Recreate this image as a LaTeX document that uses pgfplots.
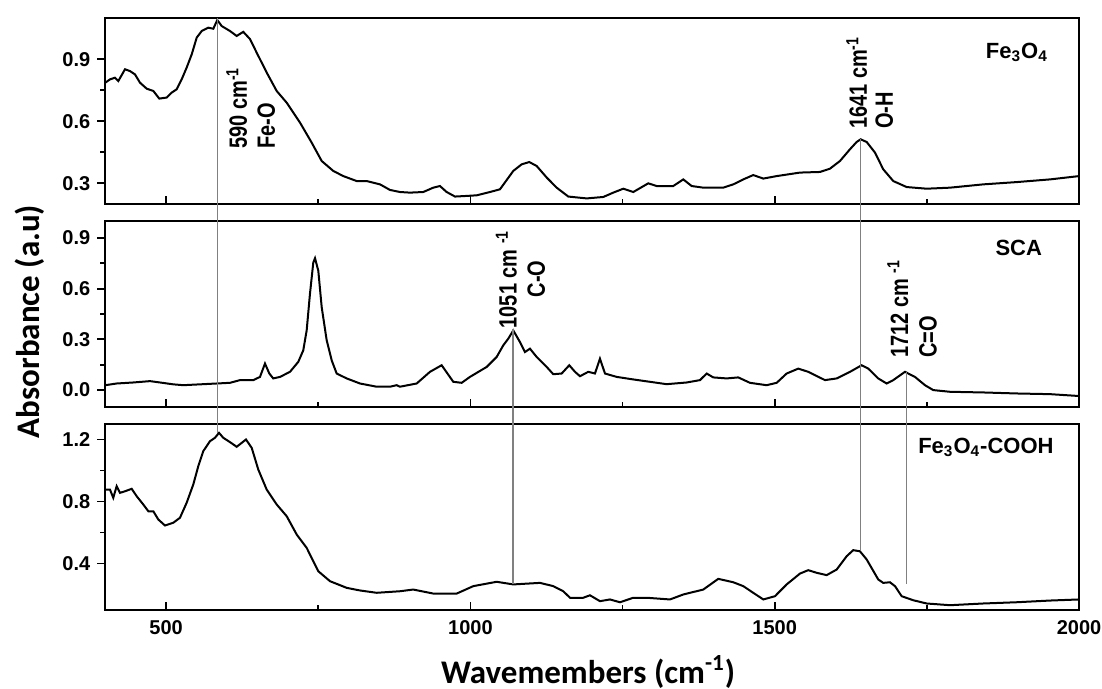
\documentclass[border=0pt]{standalone}
\usepackage{fontspec}
\usepackage{graphicx}
\usepackage{pgfplots}
\pgfplotsset{compat=1.18}
\setmainfont{Liberation Sans}
\newfontfamily\calibri{Carlito}
\newcommand\pk[1]{\scalebox{0.8}[1]{#1}}

\pgfplotsset{
  panel/.style={
    scale only axis, width=486.85pt, height=93pt,
    anchor=north west,
    xmin=400, xmax=2000,
    xtick={500,1000,1500,2000}, minor x tick num=1,
    xtick pos=left, ytick pos=left,
    xtick align=inside, ytick align=outside,
    major tick length=4pt, minor tick length=2.5pt,
    axis line style={line width=1.1pt},
    tick style={black, line width=0.9pt},
    tick label style={font=\bfseries\fontsize{10}{12}\selectfont},
    /pgf/number format/assume math mode=true,
    xticklabel style={/pgf/number format/set thousands separator={}},
    yticklabel style={/pgf/number format/.cd, fixed, fixed zerofill, precision=1},
    minor y tick num=1,
    clip mode=individual,
  },
  spec/.style={black, line width=1pt, no marks},
}
\tikzset{
  peak/.style={rotate=90, anchor=base west, inner sep=0pt, font=\bfseries\fontsize{12.5}{14}\selectfont},
  samp/.style={font=\bfseries\fontsize{11}{13}\selectfont},
}

\begin{document}
\begin{tikzpicture}
% Fe3O4
\begin{axis}[panel, at={(0,0)}, ymin=0.2, ymax=1.1, ytick={0.3,0.6,0.9}, xticklabel=\empty]
\addplot[spec] coordinates {(400,0.787)(407.7,0.803)(415.9,0.811)(421.4,0.795)(432.4,0.852)(440.6,0.843)(448.8,0.827)(457,0.787)(468,0.758)(478.9,0.747)(488.7,0.710)(500.9,0.715)(509.1,0.739)(517.3,0.755)(525.5,0.803)(533.7,0.860)(542,0.924)(550.2,1.005)(558.4,1.037)(569.2,1.053)(577.5,1.048)(584,1.090)(591.3,1.061)(604.9,1.037)(615.9,1.013)(626.7,1.033)(637.8,0.998)(648.8,0.932)(665.2,0.836)(681.6,0.747)(698.1,0.690)(719.9,0.594)(739.1,0.497)(755.6,0.408)(774.6,0.360)(791.1,0.335)(813.1,0.311)(829.5,0.311)(851.4,0.295)(867.8,0.268)(884.2,0.258)(900.7,0.255)(922.5,0.258)(938.9,0.279)(949.9,0.287)(960.9,0.258)(974.6,0.236)(993.8,0.239)(1010.2,0.242)(1032.1,0.258)(1048.5,0.271)(1070.4,0.360)(1084.2,0.392)(1096.7,0.403)(1108.8,0.384)(1125.3,0.328)(1141.7,0.279)(1160.8,0.236)(1191,0.227)(1218.3,0.234)(1234.7,0.255)(1251.2,0.274)(1267.6,0.258)(1292.2,0.300)(1306,0.287)(1333.3,0.287)(1349.7,0.319)(1363.5,0.287)(1382.6,0.279)(1415.4,0.279)(1431.9,0.295)(1448.3,0.319)(1464.7,0.340)(1481.2,0.323)(1503.2,0.335)(1541.5,0.352)(1574.4,0.355)(1590.8,0.371)(1607.2,0.408)(1623.7,0.465)(1634.6,0.500)(1641.2,0.513)(1651.1,0.500)(1664.7,0.449)(1678.3,0.368)(1694.8,0.311)(1716.8,0.282)(1749.7,0.274)(1788,0.279)(1842.7,0.295)(1897.5,0.306)(1952.3,0.319)(2000,0.335)};
\node[peak] at (axis cs:632.8,0.465) {\pk{590 cm\textsuperscript{-1}}};
\node[peak] at (axis cs:678.8,0.465) {\pk{Fe-O}};
\node[peak] at (axis cs:1651.6,0.561) {\pk{1641 cm\textsuperscript{-1}}};
\node[peak] at (axis cs:1694,0.561) {\pk{O-H}};
\node[samp] at (axis cs:1898,0.934) {Fe\textsubscript{3}O\textsubscript{4}};
\coordinate (a1) at (axis cs:585,1.10);
\coordinate (a4) at (axis cs:1641,0.513);
\end{axis}
% SCA
\begin{axis}[panel, at={(0,-101.5pt)}, ymin=-0.1, ymax=1.0, ytick={0,0.3,0.6,0.9}, xticklabel=\empty]
\addplot[spec] coordinates {(400,0.029)(418.7,0.039)(446,0.045)(473.4,0.053)(489.9,0.045)(511.7,0.034)(528.2,0.029)(555.6,0.034)(583,0.039)(604.9,0.043)(621.3,0.059)(643.2,0.059)(654.2,0.078)(662.4,0.157)(669.5,0.098)(676,0.069)(687.1,0.078)(703.5,0.108)(717.1,0.167)(725.3,0.235)(730.9,0.353)(736.3,0.569)(741.8,0.755)(744.6,0.780)(750,0.706)(755.6,0.490)(763.8,0.294)(772,0.176)(780.2,0.098)(796.6,0.069)(818.5,0.039)(845.9,0.020)(867.8,0.020)(878.8,0.029)(884.2,0.020)(911.7,0.039)(933.5,0.108)(952.7,0.147)(971.8,0.049)(985.6,0.043)(999.2,0.078)(1026.7,0.137)(1043.1,0.196)(1054,0.265)(1062.2,0.304)(1070.4,0.353)(1081.4,0.284)(1089.6,0.225)(1097.8,0.245)(1108.8,0.196)(1125.3,0.137)(1136.1,0.094)(1149.9,0.098)(1162.4,0.147)(1171.8,0.108)(1180,0.082)(1193.6,0.108)(1204.6,0.098)(1212.8,0.186)(1221.1,0.098)(1240.3,0.078)(1267.6,0.063)(1295,0.049)(1322.4,0.035)(1355.3,0.045)(1377.2,0.059)(1388.2,0.098)(1399,0.075)(1421,0.069)(1440.1,0.075)(1459.3,0.043)(1486.7,0.029)(1503.2,0.043)(1519.6,0.098)(1538.7,0.127)(1555.1,0.108)(1582.6,0.059)(1601.8,0.069)(1623.7,0.108)(1642.9,0.147)(1653.7,0.127)(1670.1,0.069)(1683.9,0.039)(1694.8,0.059)(1714,0.108)(1730.4,0.078)(1746.9,0.029)(1760.5,0.000)(1788,-0.010)(1842.7,-0.014)(1897.5,-0.020)(1952.3,-0.024)(2000,-0.035)};
\node[peak] at (axis cs:1076,0.363) {\pk{1051 cm \textsuperscript{-1}}};
\node[peak] at (axis cs:1122.3,0.547) {\pk{C-O}};
\node[peak] at (axis cs:1719,0.188) {\pk{1712 cm \textsuperscript{-1}}};
\node[peak] at (axis cs:1766,0.188) {\pk{C=O}};
\node[samp] at (axis cs:1901,0.841) {SCA};
\coordinate (a2) at (axis cs:1070,0.36);
\coordinate (a3) at (axis cs:1717,0.108);
\end{axis}
% Fe3O4-COOH
\begin{axis}[panel, at={(0,-203pt)}, ymin=0.1, ymax=1.3, ytick={0.4,0.8,1.2},
  xticklabel style={yshift=-1.5pt}]
\addplot[spec] coordinates {(400,0.877)(407.7,0.877)(413.1,0.824)(418.7,0.899)(424.2,0.856)(432.4,0.866)(443.4,0.882)(451.6,0.834)(462.4,0.781)(470.7,0.737)(478.9,0.737)(487.1,0.684)(498.1,0.645)(511.7,0.663)(522.7,0.695)(533.7,0.792)(544.6,0.910)(552.8,1.028)(561,1.125)(572,1.189)(580.2,1.211)(586.8,1.243)(593.9,1.211)(604.9,1.183)(615.9,1.153)(631.2,1.200)(640.6,1.146)(651.4,1.006)(665.2,0.877)(681.6,0.781)(698.1,0.705)(714.5,0.587)(730.9,0.501)(750,0.350)(769.2,0.286)(796.6,0.243)(818.5,0.226)(845.9,0.211)(884.2,0.221)(906.1,0.232)(938.9,0.206)(977.4,0.206)(1004.7,0.254)(1043.1,0.282)(1070.4,0.265)(1114.3,0.275)(1136.1,0.254)(1152.5,0.221)(1163.6,0.179)(1185.4,0.179)(1196.4,0.195)(1212.8,0.157)(1229.3,0.168)(1245.7,0.150)(1267.6,0.179)(1289.6,0.179)(1327.9,0.168)(1349.7,0.200)(1382.6,0.232)(1407.2,0.301)(1431.9,0.279)(1448.3,0.254)(1464.7,0.211)(1481.2,0.168)(1500.4,0.189)(1519.6,0.265)(1541.5,0.335)(1555.1,0.357)(1568.9,0.340)(1585.3,0.325)(1601.8,0.361)(1618.2,0.447)(1629,0.486)(1640,0.479)(1651.1,0.426)(1670.1,0.297)(1678.3,0.275)(1689.3,0.279)(1697.6,0.254)(1708.6,0.189)(1727.6,0.163)(1749.7,0.142)(1788,0.131)(1842.7,0.142)(1897.5,0.150)(1952.3,0.161)(2000,0.168)};
\node[samp] at (axis cs:1847,1.148) {Fe\textsubscript{3}O\textsubscript{4}-COOH};
\coordinate (b1) at (axis cs:585,1.24);
\coordinate (b2) at (axis cs:1070,0.27);
\coordinate (b3) at (axis cs:1717,0.27);
\coordinate (b4) at (axis cs:1641,0.49);
\end{axis}
\draw[gray, line width=0.55pt] (a1) -- (b1) (a2) -- (b2) (a3) -- (b3) (a4) -- (b4);
\node[rotate=90, anchor=base, font=\calibri\bfseries\fontsize{16.5}{19}\selectfont] at (-32.65pt,-151.75pt) {Absorbance (a.u)};
\node[anchor=base, font=\calibri\bfseries\fontsize{16.5}{19}\selectfont] at (241.4pt,-332.5pt) {Wavemembers (cm\textsuperscript{-1})};
\pgfresetboundingbox
\path (-52.65pt,9pt) rectangle (498.35pt,-335.5pt);
\end{tikzpicture}
\end{document}
